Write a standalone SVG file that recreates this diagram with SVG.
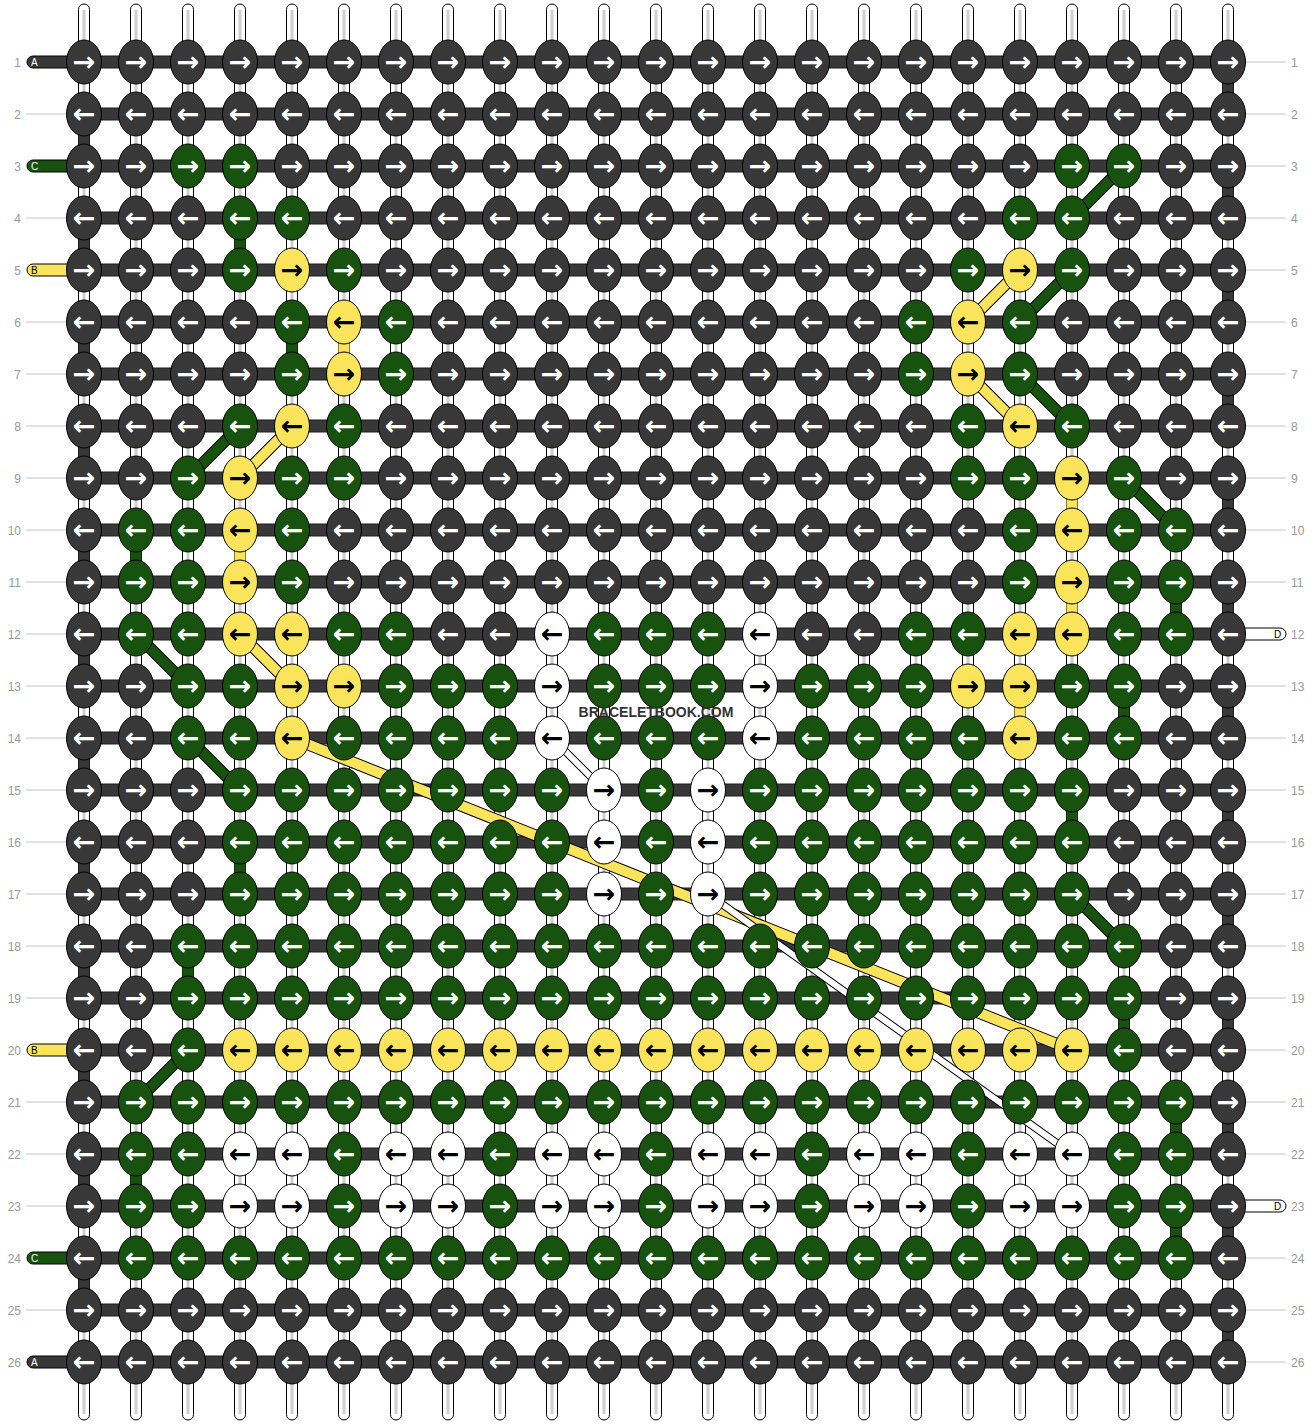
<svg xmlns="http://www.w3.org/2000/svg" xmlns:xlink="http://www.w3.org/1999/xlink" width="1312" height="1424" viewBox="0 0 1312 1424">
<style>
.aw{font-family:"DejaVu Sans",sans-serif;font-size:27px;font-weight:bold;text-anchor:middle;fill:#fff}
.ab{font-family:"DejaVu Sans",sans-serif;font-size:27px;font-weight:bold;text-anchor:middle;fill:#000}
.kd{fill:#383838;stroke:#000;stroke-width:1}
.kg{fill:#17520f;stroke:#000;stroke-width:1}
.ky{fill:#f9e45b;stroke:#000;stroke-width:1}
.kw{fill:#fff;stroke:#000;stroke-width:1}
.bar{fill:#383838;stroke:#1c1c1c;stroke-width:1}
.vd{fill:#383838;stroke:#1c1c1c;stroke-width:1}
.vg{fill:#17520f;stroke:#0c2c08;stroke-width:1}
.vy{fill:#f9e45b;stroke:#8a7a20;stroke-width:1}
.num{font-family:"Liberation Sans",Arial,sans-serif;font-size:12px;fill:#999}
.nl{stroke:#c4c4c4;stroke-width:1}
.lab{font-family:"Liberation Sans",Arial,sans-serif;font-size:10px}
.ol{stroke:#000;stroke-width:12;stroke-linecap:butt}
.og{stroke:#17520f;stroke-width:10}
.oy{stroke:#f9e45b;stroke-width:10}
.wo{stroke:#000;stroke-width:8}
.wi{stroke:#fff;stroke-width:6}
</style>
<defs>
<g id="warp"><rect x="-5.5" y="4" width="11" height="1416" rx="5.5" fill="#fff" stroke="#000"/><line x1="0" y1="10" x2="0" y2="1414" stroke="#cfcfcf" stroke-width="3"/></g>
<text id="ar-w" class="aw" y="9.2">→</text>
<text id="al-w" class="aw" y="9.2">←</text>
<text id="ar-b" class="ab" y="9.2">→</text>
<text id="al-b" class="ab" y="9.2">←</text>
<g id="dr"><ellipse class="kd" rx="17.5" ry="22"/><use href="#ar-w"/></g>
<g id="dl"><ellipse class="kd" rx="17.5" ry="22"/><use href="#al-w"/></g>
<g id="gr"><ellipse class="kg" rx="17.5" ry="22"/><use href="#ar-w"/></g>
<g id="gl"><ellipse class="kg" rx="17.5" ry="22"/><use href="#al-w"/></g>
<g id="yr"><ellipse class="ky" rx="17.5" ry="22"/><use href="#ar-b"/></g>
<g id="yl"><ellipse class="ky" rx="17.5" ry="22"/><use href="#al-b"/></g>
<g id="wr"><ellipse class="kw" rx="17.5" ry="22"/><use href="#ar-b"/></g>
<g id="wl"><ellipse class="kw" rx="17.5" ry="22"/><use href="#al-b"/></g>
</defs>
<rect width="1312" height="1424" fill="#fff"/>
<g id="warps">
<use href="#warp" x="84"/><use href="#warp" x="136"/><use href="#warp" x="188"/><use href="#warp" x="240"/><use href="#warp" x="292"/><use href="#warp" x="344"/><use href="#warp" x="396"/><use href="#warp" x="448"/><use href="#warp" x="500"/><use href="#warp" x="552"/><use href="#warp" x="604"/><use href="#warp" x="656"/><use href="#warp" x="708"/><use href="#warp" x="760"/><use href="#warp" x="812"/><use href="#warp" x="864"/><use href="#warp" x="916"/><use href="#warp" x="968"/><use href="#warp" x="1020"/><use href="#warp" x="1072"/><use href="#warp" x="1124"/><use href="#warp" x="1176"/><use href="#warp" x="1228"/>
</g>
<g id="labels-left">
<rect x="27" y="56" width="50" height="12" rx="6" class="kd"/><text class="lab" x="31" y="65.5" fill="#fff">A</text>
<rect x="27" y="160" width="50" height="12" rx="6" class="kg"/><text class="lab" x="31" y="169.5" fill="#fff">C</text>
<rect x="27" y="264" width="50" height="12" rx="6" class="ky"/><text class="lab" x="31" y="273.5" fill="#000">B</text>
<rect x="27" y="1044" width="50" height="12" rx="6" class="ky"/><text class="lab" x="31" y="1053.5" fill="#000">B</text>
<rect x="27" y="1252" width="50" height="12" rx="6" class="kg"/><text class="lab" x="31" y="1261.5" fill="#fff">C</text>
<rect x="27" y="1356" width="50" height="12" rx="6" class="kd"/><text class="lab" x="31" y="1365.5" fill="#fff">A</text>
</g>
<g id="labels-right">
<rect x="1235" y="628" width="51" height="12" rx="6" class="kw"/><text class="lab" x="1274" y="637.5" fill="#000">D</text>
<rect x="1235" y="1200" width="51" height="12" rx="6" class="kw"/><text class="lab" x="1274" y="1209.5" fill="#000">D</text>
</g>
<g id="row-bars">
<rect class="bar" x="84" y="56" width="1144" height="12"/><rect class="bar" x="84" y="108" width="1144" height="12"/><rect class="bar" x="84" y="160" width="1144" height="12"/><rect class="bar" x="84" y="212" width="1144" height="12"/><rect class="bar" x="84" y="264" width="1144" height="12"/><rect class="bar" x="84" y="316" width="1144" height="12"/><rect class="bar" x="84" y="368" width="1144" height="12"/><rect class="bar" x="84" y="420" width="1144" height="12"/><rect class="bar" x="84" y="472" width="1144" height="12"/><rect class="bar" x="84" y="524" width="1144" height="12"/><rect class="bar" x="84" y="576" width="1144" height="12"/><rect class="bar" x="84" y="628" width="1144" height="12"/><rect class="bar" x="84" y="680" width="1144" height="12"/><rect class="bar" x="84" y="732" width="1144" height="12"/><rect class="bar" x="84" y="784" width="1144" height="12"/><rect class="bar" x="84" y="836" width="1144" height="12"/><rect class="bar" x="84" y="888" width="1144" height="12"/><rect class="bar" x="84" y="940" width="1144" height="12"/><rect class="bar" x="84" y="992" width="1144" height="12"/><rect class="bar" x="84" y="1044" width="1144" height="12"/><rect class="bar" x="84" y="1096" width="1144" height="12"/><rect class="bar" x="84" y="1148" width="1144" height="12"/><rect class="bar" x="84" y="1200" width="1144" height="12"/><rect class="bar" x="84" y="1252" width="1144" height="12"/><rect class="bar" x="84" y="1304" width="1144" height="12"/><rect class="bar" x="84" y="1356" width="1144" height="12"/>
</g>
<g id="connectors">
<rect class="vd" x="78.5" y="114" width="11" height="52"/><rect class="vd" x="78.5" y="218" width="11" height="52"/><rect class="vd" x="78.5" y="322" width="11" height="52"/><rect class="vd" x="78.5" y="426" width="11" height="52"/><rect class="vd" x="78.5" y="530" width="11" height="52"/><rect class="vd" x="78.5" y="634" width="11" height="52"/><rect class="vd" x="78.5" y="738" width="11" height="52"/><rect class="vd" x="78.5" y="842" width="11" height="52"/><rect class="vd" x="78.5" y="946" width="11" height="52"/><rect class="vd" x="78.5" y="1050" width="11" height="52"/><rect class="vd" x="78.5" y="1154" width="11" height="52"/><rect class="vd" x="78.5" y="1258" width="11" height="52"/>
<rect class="vd" x="1222.5" y="62" width="11" height="52"/><rect class="vd" x="1222.5" y="166" width="11" height="52"/><rect class="vd" x="1222.5" y="270" width="11" height="52"/><rect class="vd" x="1222.5" y="374" width="11" height="52"/><rect class="vd" x="1222.5" y="478" width="11" height="52"/><rect class="vd" x="1222.5" y="582" width="11" height="52"/><rect class="vd" x="1222.5" y="686" width="11" height="52"/><rect class="vd" x="1222.5" y="790" width="11" height="52"/><rect class="vd" x="1222.5" y="894" width="11" height="52"/><rect class="vd" x="1222.5" y="998" width="11" height="52"/><rect class="vd" x="1222.5" y="1102" width="11" height="52"/><rect class="vd" x="1222.5" y="1206" width="11" height="52"/><rect class="vd" x="1222.5" y="1310" width="11" height="52"/>
<rect class="vg" x="234.5" y="218" width="11" height="52"/>
<rect class="vg" x="286.5" y="322" width="11" height="52"/>
<rect class="vy" x="338.5" y="322" width="11" height="52"/>
<rect class="vg" x="130.5" y="530" width="11" height="52"/>
<rect class="vy" x="234.5" y="530" width="11" height="52"/>
<rect class="vy" x="1066.5" y="478" width="11" height="52"/>
<rect class="vy" x="1066.5" y="582" width="11" height="52"/>
<rect class="vg" x="1170.5" y="582" width="11" height="52"/>
<rect class="vy" x="1014.5" y="686" width="11" height="52"/>
<rect class="vg" x="1118.5" y="686" width="11" height="52"/>
<rect class="vg" x="1066.5" y="790" width="11" height="52"/>
<rect class="vg" x="234.5" y="842" width="11" height="52"/>
<rect class="vg" x="182.5" y="946" width="11" height="52"/>
<rect class="vg" x="1118.5" y="998" width="11" height="52"/>
<rect class="vg" x="1170.5" y="1102" width="11" height="52"/>
<rect class="vg" x="130.5" y="1154" width="11" height="52"/>
<rect class="vg" x="1170.5" y="1206" width="11" height="52"/>
<g id="diag-green">
<line class="ol" x1="1124" y1="166" x2="1072" y2="218"/><line class="og" x1="1124" y1="166" x2="1072" y2="218"/>
<line class="ol" x1="1072" y1="270" x2="1020" y2="322"/><line class="og" x1="1072" y1="270" x2="1020" y2="322"/>
<line class="ol" x1="1020" y1="374" x2="1072" y2="426"/><line class="og" x1="1020" y1="374" x2="1072" y2="426"/>
<line class="ol" x1="1124" y1="478" x2="1176" y2="530"/><line class="og" x1="1124" y1="478" x2="1176" y2="530"/>
<line class="ol" x1="240" y1="426" x2="188" y2="478"/><line class="og" x1="240" y1="426" x2="188" y2="478"/>
<line class="ol" x1="136" y1="634" x2="188" y2="686"/><line class="og" x1="136" y1="634" x2="188" y2="686"/>
<line class="ol" x1="188" y1="738" x2="240" y2="790"/><line class="og" x1="188" y1="738" x2="240" y2="790"/>
<line class="ol" x1="1072" y1="894" x2="1124" y2="946"/><line class="og" x1="1072" y1="894" x2="1124" y2="946"/>
<line class="ol" x1="188" y1="1050" x2="136" y2="1102"/><line class="og" x1="188" y1="1050" x2="136" y2="1102"/>
</g>
<g id="diag-yellow">
<line class="ol" x1="1020" y1="270" x2="968" y2="322"/><line class="oy" x1="1020" y1="270" x2="968" y2="322"/>
<line class="ol" x1="968" y1="374" x2="1020" y2="426"/><line class="oy" x1="968" y1="374" x2="1020" y2="426"/>
<line class="ol" x1="292" y1="426" x2="240" y2="478"/><line class="oy" x1="292" y1="426" x2="240" y2="478"/>
<line class="ol" x1="240" y1="634" x2="292" y2="686"/><line class="oy" x1="240" y1="634" x2="292" y2="686"/>
<line class="ol" x1="292" y1="738" x2="1072" y2="1050"/><line class="oy" x1="292" y1="738" x2="1072" y2="1050"/>
</g>
<g id="diag-white">
<line class="wo" x1="552" y1="738" x2="604" y2="790"/><line class="wi" x1="552" y1="738" x2="604" y2="790"/>
<line class="wo" x1="708" y1="894" x2="1072" y2="1154"/><line class="wi" x1="708" y1="894" x2="1072" y2="1154"/>
</g>
</g>
<g id="knots">
<g id="row-1" transform="translate(0,62)"><use href="#dr" x="84"/><use href="#dr" x="136"/><use href="#dr" x="188"/><use href="#dr" x="240"/><use href="#dr" x="292"/><use href="#dr" x="344"/><use href="#dr" x="396"/><use href="#dr" x="448"/><use href="#dr" x="500"/><use href="#dr" x="552"/><use href="#dr" x="604"/><use href="#dr" x="656"/><use href="#dr" x="708"/><use href="#dr" x="760"/><use href="#dr" x="812"/><use href="#dr" x="864"/><use href="#dr" x="916"/><use href="#dr" x="968"/><use href="#dr" x="1020"/><use href="#dr" x="1072"/><use href="#dr" x="1124"/><use href="#dr" x="1176"/><use href="#dr" x="1228"/></g>
<g id="row-2" transform="translate(0,114)"><use href="#dl" x="84"/><use href="#dl" x="136"/><use href="#dl" x="188"/><use href="#dl" x="240"/><use href="#dl" x="292"/><use href="#dl" x="344"/><use href="#dl" x="396"/><use href="#dl" x="448"/><use href="#dl" x="500"/><use href="#dl" x="552"/><use href="#dl" x="604"/><use href="#dl" x="656"/><use href="#dl" x="708"/><use href="#dl" x="760"/><use href="#dl" x="812"/><use href="#dl" x="864"/><use href="#dl" x="916"/><use href="#dl" x="968"/><use href="#dl" x="1020"/><use href="#dl" x="1072"/><use href="#dl" x="1124"/><use href="#dl" x="1176"/><use href="#dl" x="1228"/></g>
<g id="row-3" transform="translate(0,166)"><use href="#dr" x="84"/><use href="#dr" x="136"/><use href="#gr" x="188"/><use href="#gr" x="240"/><use href="#dr" x="292"/><use href="#dr" x="344"/><use href="#dr" x="396"/><use href="#dr" x="448"/><use href="#dr" x="500"/><use href="#dr" x="552"/><use href="#dr" x="604"/><use href="#dr" x="656"/><use href="#dr" x="708"/><use href="#dr" x="760"/><use href="#dr" x="812"/><use href="#dr" x="864"/><use href="#dr" x="916"/><use href="#dr" x="968"/><use href="#dr" x="1020"/><use href="#gr" x="1072"/><use href="#gr" x="1124"/><use href="#dr" x="1176"/><use href="#dr" x="1228"/></g>
<g id="row-4" transform="translate(0,218)"><use href="#dl" x="84"/><use href="#dl" x="136"/><use href="#dl" x="188"/><use href="#gl" x="240"/><use href="#gl" x="292"/><use href="#dl" x="344"/><use href="#dl" x="396"/><use href="#dl" x="448"/><use href="#dl" x="500"/><use href="#dl" x="552"/><use href="#dl" x="604"/><use href="#dl" x="656"/><use href="#dl" x="708"/><use href="#dl" x="760"/><use href="#dl" x="812"/><use href="#dl" x="864"/><use href="#dl" x="916"/><use href="#dl" x="968"/><use href="#gl" x="1020"/><use href="#gl" x="1072"/><use href="#dl" x="1124"/><use href="#dl" x="1176"/><use href="#dl" x="1228"/></g>
<g id="row-5" transform="translate(0,270)"><use href="#dr" x="84"/><use href="#dr" x="136"/><use href="#dr" x="188"/><use href="#gr" x="240"/><use href="#yr" x="292"/><use href="#gr" x="344"/><use href="#dr" x="396"/><use href="#dr" x="448"/><use href="#dr" x="500"/><use href="#dr" x="552"/><use href="#dr" x="604"/><use href="#dr" x="656"/><use href="#dr" x="708"/><use href="#dr" x="760"/><use href="#dr" x="812"/><use href="#dr" x="864"/><use href="#dr" x="916"/><use href="#gr" x="968"/><use href="#yr" x="1020"/><use href="#gr" x="1072"/><use href="#dr" x="1124"/><use href="#dr" x="1176"/><use href="#dr" x="1228"/></g>
<g id="row-6" transform="translate(0,322)"><use href="#dl" x="84"/><use href="#dl" x="136"/><use href="#dl" x="188"/><use href="#dl" x="240"/><use href="#gl" x="292"/><use href="#yl" x="344"/><use href="#gl" x="396"/><use href="#dl" x="448"/><use href="#dl" x="500"/><use href="#dl" x="552"/><use href="#dl" x="604"/><use href="#dl" x="656"/><use href="#dl" x="708"/><use href="#dl" x="760"/><use href="#dl" x="812"/><use href="#dl" x="864"/><use href="#gl" x="916"/><use href="#yl" x="968"/><use href="#gl" x="1020"/><use href="#dl" x="1072"/><use href="#dl" x="1124"/><use href="#dl" x="1176"/><use href="#dl" x="1228"/></g>
<g id="row-7" transform="translate(0,374)"><use href="#dr" x="84"/><use href="#dr" x="136"/><use href="#dr" x="188"/><use href="#dr" x="240"/><use href="#gr" x="292"/><use href="#yr" x="344"/><use href="#gr" x="396"/><use href="#dr" x="448"/><use href="#dr" x="500"/><use href="#dr" x="552"/><use href="#dr" x="604"/><use href="#dr" x="656"/><use href="#dr" x="708"/><use href="#dr" x="760"/><use href="#dr" x="812"/><use href="#dr" x="864"/><use href="#gr" x="916"/><use href="#yr" x="968"/><use href="#gr" x="1020"/><use href="#dr" x="1072"/><use href="#dr" x="1124"/><use href="#dr" x="1176"/><use href="#dr" x="1228"/></g>
<g id="row-8" transform="translate(0,426)"><use href="#dl" x="84"/><use href="#dl" x="136"/><use href="#dl" x="188"/><use href="#gl" x="240"/><use href="#yl" x="292"/><use href="#gl" x="344"/><use href="#dl" x="396"/><use href="#dl" x="448"/><use href="#dl" x="500"/><use href="#dl" x="552"/><use href="#dl" x="604"/><use href="#dl" x="656"/><use href="#dl" x="708"/><use href="#dl" x="760"/><use href="#dl" x="812"/><use href="#dl" x="864"/><use href="#dl" x="916"/><use href="#gl" x="968"/><use href="#yl" x="1020"/><use href="#gl" x="1072"/><use href="#dl" x="1124"/><use href="#dl" x="1176"/><use href="#dl" x="1228"/></g>
<g id="row-9" transform="translate(0,478)"><use href="#dr" x="84"/><use href="#dr" x="136"/><use href="#gr" x="188"/><use href="#yr" x="240"/><use href="#gr" x="292"/><use href="#gr" x="344"/><use href="#dr" x="396"/><use href="#dr" x="448"/><use href="#dr" x="500"/><use href="#dr" x="552"/><use href="#dr" x="604"/><use href="#dr" x="656"/><use href="#dr" x="708"/><use href="#dr" x="760"/><use href="#dr" x="812"/><use href="#dr" x="864"/><use href="#dr" x="916"/><use href="#gr" x="968"/><use href="#gr" x="1020"/><use href="#yr" x="1072"/><use href="#gr" x="1124"/><use href="#dr" x="1176"/><use href="#dr" x="1228"/></g>
<g id="row-10" transform="translate(0,530)"><use href="#dl" x="84"/><use href="#gl" x="136"/><use href="#gl" x="188"/><use href="#yl" x="240"/><use href="#gl" x="292"/><use href="#dl" x="344"/><use href="#dl" x="396"/><use href="#dl" x="448"/><use href="#dl" x="500"/><use href="#dl" x="552"/><use href="#dl" x="604"/><use href="#dl" x="656"/><use href="#dl" x="708"/><use href="#dl" x="760"/><use href="#dl" x="812"/><use href="#dl" x="864"/><use href="#dl" x="916"/><use href="#dl" x="968"/><use href="#gl" x="1020"/><use href="#yl" x="1072"/><use href="#gl" x="1124"/><use href="#gl" x="1176"/><use href="#dl" x="1228"/></g>
<g id="row-11" transform="translate(0,582)"><use href="#dr" x="84"/><use href="#gr" x="136"/><use href="#gr" x="188"/><use href="#yr" x="240"/><use href="#gr" x="292"/><use href="#dr" x="344"/><use href="#dr" x="396"/><use href="#dr" x="448"/><use href="#dr" x="500"/><use href="#dr" x="552"/><use href="#dr" x="604"/><use href="#dr" x="656"/><use href="#dr" x="708"/><use href="#dr" x="760"/><use href="#dr" x="812"/><use href="#dr" x="864"/><use href="#dr" x="916"/><use href="#dr" x="968"/><use href="#gr" x="1020"/><use href="#yr" x="1072"/><use href="#gr" x="1124"/><use href="#gr" x="1176"/><use href="#dr" x="1228"/></g>
<g id="row-12" transform="translate(0,634)"><use href="#dl" x="84"/><use href="#gl" x="136"/><use href="#gl" x="188"/><use href="#yl" x="240"/><use href="#yl" x="292"/><use href="#gl" x="344"/><use href="#gl" x="396"/><use href="#dl" x="448"/><use href="#dl" x="500"/><use href="#wl" x="552"/><use href="#gl" x="604"/><use href="#gl" x="656"/><use href="#gl" x="708"/><use href="#wl" x="760"/><use href="#dl" x="812"/><use href="#dl" x="864"/><use href="#gl" x="916"/><use href="#gl" x="968"/><use href="#yl" x="1020"/><use href="#yl" x="1072"/><use href="#gl" x="1124"/><use href="#gl" x="1176"/><use href="#dl" x="1228"/></g>
<g id="row-13" transform="translate(0,686)"><use href="#dr" x="84"/><use href="#dr" x="136"/><use href="#gr" x="188"/><use href="#gr" x="240"/><use href="#yr" x="292"/><use href="#yr" x="344"/><use href="#gr" x="396"/><use href="#gr" x="448"/><use href="#gr" x="500"/><use href="#wr" x="552"/><use href="#gr" x="604"/><use href="#gr" x="656"/><use href="#gr" x="708"/><use href="#wr" x="760"/><use href="#gr" x="812"/><use href="#gr" x="864"/><use href="#gr" x="916"/><use href="#yr" x="968"/><use href="#yr" x="1020"/><use href="#gr" x="1072"/><use href="#gr" x="1124"/><use href="#dr" x="1176"/><use href="#dr" x="1228"/></g>
<g id="row-14" transform="translate(0,738)"><use href="#dl" x="84"/><use href="#dl" x="136"/><use href="#gl" x="188"/><use href="#gl" x="240"/><use href="#yl" x="292"/><use href="#gl" x="344"/><use href="#gl" x="396"/><use href="#gl" x="448"/><use href="#gl" x="500"/><use href="#wl" x="552"/><use href="#gl" x="604"/><use href="#gl" x="656"/><use href="#gl" x="708"/><use href="#wl" x="760"/><use href="#gl" x="812"/><use href="#gl" x="864"/><use href="#gl" x="916"/><use href="#gl" x="968"/><use href="#yl" x="1020"/><use href="#gl" x="1072"/><use href="#gl" x="1124"/><use href="#dl" x="1176"/><use href="#dl" x="1228"/></g>
<g id="row-15" transform="translate(0,790)"><use href="#dr" x="84"/><use href="#dr" x="136"/><use href="#dr" x="188"/><use href="#gr" x="240"/><use href="#gr" x="292"/><use href="#gr" x="344"/><use href="#gr" x="396"/><use href="#gr" x="448"/><use href="#gr" x="500"/><use href="#gr" x="552"/><use href="#wr" x="604"/><use href="#gr" x="656"/><use href="#wr" x="708"/><use href="#gr" x="760"/><use href="#gr" x="812"/><use href="#gr" x="864"/><use href="#gr" x="916"/><use href="#gr" x="968"/><use href="#gr" x="1020"/><use href="#gr" x="1072"/><use href="#dr" x="1124"/><use href="#dr" x="1176"/><use href="#dr" x="1228"/></g>
<g id="row-16" transform="translate(0,842)"><use href="#dl" x="84"/><use href="#dl" x="136"/><use href="#dl" x="188"/><use href="#gl" x="240"/><use href="#gl" x="292"/><use href="#gl" x="344"/><use href="#gl" x="396"/><use href="#gl" x="448"/><use href="#gl" x="500"/><use href="#gl" x="552"/><use href="#wl" x="604"/><use href="#gl" x="656"/><use href="#wl" x="708"/><use href="#gl" x="760"/><use href="#gl" x="812"/><use href="#gl" x="864"/><use href="#gl" x="916"/><use href="#gl" x="968"/><use href="#gl" x="1020"/><use href="#gl" x="1072"/><use href="#dl" x="1124"/><use href="#dl" x="1176"/><use href="#dl" x="1228"/></g>
<g id="row-17" transform="translate(0,894)"><use href="#dr" x="84"/><use href="#dr" x="136"/><use href="#dr" x="188"/><use href="#gr" x="240"/><use href="#gr" x="292"/><use href="#gr" x="344"/><use href="#gr" x="396"/><use href="#gr" x="448"/><use href="#gr" x="500"/><use href="#gr" x="552"/><use href="#wr" x="604"/><use href="#gr" x="656"/><use href="#wr" x="708"/><use href="#gr" x="760"/><use href="#gr" x="812"/><use href="#gr" x="864"/><use href="#gr" x="916"/><use href="#gr" x="968"/><use href="#gr" x="1020"/><use href="#gr" x="1072"/><use href="#dr" x="1124"/><use href="#dr" x="1176"/><use href="#dr" x="1228"/></g>
<g id="row-18" transform="translate(0,946)"><use href="#dl" x="84"/><use href="#dl" x="136"/><use href="#gl" x="188"/><use href="#gl" x="240"/><use href="#gl" x="292"/><use href="#gl" x="344"/><use href="#gl" x="396"/><use href="#gl" x="448"/><use href="#gl" x="500"/><use href="#gl" x="552"/><use href="#gl" x="604"/><use href="#gl" x="656"/><use href="#gl" x="708"/><use href="#gl" x="760"/><use href="#gl" x="812"/><use href="#gl" x="864"/><use href="#gl" x="916"/><use href="#gl" x="968"/><use href="#gl" x="1020"/><use href="#gl" x="1072"/><use href="#gl" x="1124"/><use href="#dl" x="1176"/><use href="#dl" x="1228"/></g>
<g id="row-19" transform="translate(0,998)"><use href="#dr" x="84"/><use href="#dr" x="136"/><use href="#gr" x="188"/><use href="#gr" x="240"/><use href="#gr" x="292"/><use href="#gr" x="344"/><use href="#gr" x="396"/><use href="#gr" x="448"/><use href="#gr" x="500"/><use href="#gr" x="552"/><use href="#gr" x="604"/><use href="#gr" x="656"/><use href="#gr" x="708"/><use href="#gr" x="760"/><use href="#gr" x="812"/><use href="#gr" x="864"/><use href="#gr" x="916"/><use href="#gr" x="968"/><use href="#gr" x="1020"/><use href="#gr" x="1072"/><use href="#gr" x="1124"/><use href="#dr" x="1176"/><use href="#dr" x="1228"/></g>
<g id="row-20" transform="translate(0,1050)"><use href="#dl" x="84"/><use href="#dl" x="136"/><use href="#gl" x="188"/><use href="#yl" x="240"/><use href="#yl" x="292"/><use href="#yl" x="344"/><use href="#yl" x="396"/><use href="#yl" x="448"/><use href="#yl" x="500"/><use href="#yl" x="552"/><use href="#yl" x="604"/><use href="#yl" x="656"/><use href="#yl" x="708"/><use href="#yl" x="760"/><use href="#yl" x="812"/><use href="#yl" x="864"/><use href="#yl" x="916"/><use href="#yl" x="968"/><use href="#yl" x="1020"/><use href="#yl" x="1072"/><use href="#gl" x="1124"/><use href="#dl" x="1176"/><use href="#dl" x="1228"/></g>
<g id="row-21" transform="translate(0,1102)"><use href="#dr" x="84"/><use href="#gr" x="136"/><use href="#gr" x="188"/><use href="#gr" x="240"/><use href="#gr" x="292"/><use href="#gr" x="344"/><use href="#gr" x="396"/><use href="#gr" x="448"/><use href="#gr" x="500"/><use href="#gr" x="552"/><use href="#gr" x="604"/><use href="#gr" x="656"/><use href="#gr" x="708"/><use href="#gr" x="760"/><use href="#gr" x="812"/><use href="#gr" x="864"/><use href="#gr" x="916"/><use href="#gr" x="968"/><use href="#gr" x="1020"/><use href="#gr" x="1072"/><use href="#gr" x="1124"/><use href="#gr" x="1176"/><use href="#dr" x="1228"/></g>
<g id="row-22" transform="translate(0,1154)"><use href="#dl" x="84"/><use href="#gl" x="136"/><use href="#gl" x="188"/><use href="#wl" x="240"/><use href="#wl" x="292"/><use href="#gl" x="344"/><use href="#wl" x="396"/><use href="#wl" x="448"/><use href="#gl" x="500"/><use href="#wl" x="552"/><use href="#wl" x="604"/><use href="#gl" x="656"/><use href="#wl" x="708"/><use href="#wl" x="760"/><use href="#gl" x="812"/><use href="#wl" x="864"/><use href="#wl" x="916"/><use href="#gl" x="968"/><use href="#wl" x="1020"/><use href="#wl" x="1072"/><use href="#gl" x="1124"/><use href="#gl" x="1176"/><use href="#dl" x="1228"/></g>
<g id="row-23" transform="translate(0,1206)"><use href="#dr" x="84"/><use href="#gr" x="136"/><use href="#gr" x="188"/><use href="#wr" x="240"/><use href="#wr" x="292"/><use href="#gr" x="344"/><use href="#wr" x="396"/><use href="#wr" x="448"/><use href="#gr" x="500"/><use href="#wr" x="552"/><use href="#wr" x="604"/><use href="#gr" x="656"/><use href="#wr" x="708"/><use href="#wr" x="760"/><use href="#gr" x="812"/><use href="#wr" x="864"/><use href="#wr" x="916"/><use href="#gr" x="968"/><use href="#wr" x="1020"/><use href="#wr" x="1072"/><use href="#gr" x="1124"/><use href="#gr" x="1176"/><use href="#dr" x="1228"/></g>
<g id="row-24" transform="translate(0,1258)"><use href="#dl" x="84"/><use href="#gl" x="136"/><use href="#gl" x="188"/><use href="#gl" x="240"/><use href="#gl" x="292"/><use href="#gl" x="344"/><use href="#gl" x="396"/><use href="#gl" x="448"/><use href="#gl" x="500"/><use href="#gl" x="552"/><use href="#gl" x="604"/><use href="#gl" x="656"/><use href="#gl" x="708"/><use href="#gl" x="760"/><use href="#gl" x="812"/><use href="#gl" x="864"/><use href="#gl" x="916"/><use href="#gl" x="968"/><use href="#gl" x="1020"/><use href="#gl" x="1072"/><use href="#gl" x="1124"/><use href="#gl" x="1176"/><use href="#dl" x="1228"/></g>
<g id="row-25" transform="translate(0,1310)"><use href="#dr" x="84"/><use href="#dr" x="136"/><use href="#dr" x="188"/><use href="#dr" x="240"/><use href="#dr" x="292"/><use href="#dr" x="344"/><use href="#dr" x="396"/><use href="#dr" x="448"/><use href="#dr" x="500"/><use href="#dr" x="552"/><use href="#dr" x="604"/><use href="#dr" x="656"/><use href="#dr" x="708"/><use href="#dr" x="760"/><use href="#dr" x="812"/><use href="#dr" x="864"/><use href="#dr" x="916"/><use href="#dr" x="968"/><use href="#dr" x="1020"/><use href="#dr" x="1072"/><use href="#dr" x="1124"/><use href="#dr" x="1176"/><use href="#dr" x="1228"/></g>
<g id="row-26" transform="translate(0,1362)"><use href="#dl" x="84"/><use href="#dl" x="136"/><use href="#dl" x="188"/><use href="#dl" x="240"/><use href="#dl" x="292"/><use href="#dl" x="344"/><use href="#dl" x="396"/><use href="#dl" x="448"/><use href="#dl" x="500"/><use href="#dl" x="552"/><use href="#dl" x="604"/><use href="#dl" x="656"/><use href="#dl" x="708"/><use href="#dl" x="760"/><use href="#dl" x="812"/><use href="#dl" x="864"/><use href="#dl" x="916"/><use href="#dl" x="968"/><use href="#dl" x="1020"/><use href="#dl" x="1072"/><use href="#dl" x="1124"/><use href="#dl" x="1176"/><use href="#dl" x="1228"/></g>
</g>
<g id="row-number-lines">
<line class="nl" x1="26" y1="114" x2="66" y2="114"/><line class="nl" x1="26" y1="218" x2="66" y2="218"/><line class="nl" x1="26" y1="322" x2="66" y2="322"/><line class="nl" x1="26" y1="374" x2="66" y2="374"/><line class="nl" x1="26" y1="426" x2="66" y2="426"/><line class="nl" x1="26" y1="478" x2="66" y2="478"/><line class="nl" x1="26" y1="530" x2="66" y2="530"/><line class="nl" x1="26" y1="582" x2="66" y2="582"/><line class="nl" x1="26" y1="634" x2="66" y2="634"/><line class="nl" x1="26" y1="686" x2="66" y2="686"/><line class="nl" x1="26" y1="738" x2="66" y2="738"/><line class="nl" x1="26" y1="790" x2="66" y2="790"/><line class="nl" x1="26" y1="842" x2="66" y2="842"/><line class="nl" x1="26" y1="894" x2="66" y2="894"/><line class="nl" x1="26" y1="946" x2="66" y2="946"/><line class="nl" x1="26" y1="998" x2="66" y2="998"/><line class="nl" x1="26" y1="1102" x2="66" y2="1102"/><line class="nl" x1="26" y1="1154" x2="66" y2="1154"/><line class="nl" x1="26" y1="1206" x2="66" y2="1206"/><line class="nl" x1="26" y1="1310" x2="66" y2="1310"/>
<line class="nl" x1="1246" y1="62" x2="1286" y2="62"/><line class="nl" x1="1246" y1="114" x2="1286" y2="114"/><line class="nl" x1="1246" y1="166" x2="1286" y2="166"/><line class="nl" x1="1246" y1="218" x2="1286" y2="218"/><line class="nl" x1="1246" y1="270" x2="1286" y2="270"/><line class="nl" x1="1246" y1="322" x2="1286" y2="322"/><line class="nl" x1="1246" y1="374" x2="1286" y2="374"/><line class="nl" x1="1246" y1="426" x2="1286" y2="426"/><line class="nl" x1="1246" y1="478" x2="1286" y2="478"/><line class="nl" x1="1246" y1="530" x2="1286" y2="530"/><line class="nl" x1="1246" y1="582" x2="1286" y2="582"/><line class="nl" x1="1246" y1="686" x2="1286" y2="686"/><line class="nl" x1="1246" y1="738" x2="1286" y2="738"/><line class="nl" x1="1246" y1="790" x2="1286" y2="790"/><line class="nl" x1="1246" y1="842" x2="1286" y2="842"/><line class="nl" x1="1246" y1="894" x2="1286" y2="894"/><line class="nl" x1="1246" y1="946" x2="1286" y2="946"/><line class="nl" x1="1246" y1="998" x2="1286" y2="998"/><line class="nl" x1="1246" y1="1050" x2="1286" y2="1050"/><line class="nl" x1="1246" y1="1102" x2="1286" y2="1102"/><line class="nl" x1="1246" y1="1154" x2="1286" y2="1154"/><line class="nl" x1="1246" y1="1258" x2="1286" y2="1258"/><line class="nl" x1="1246" y1="1310" x2="1286" y2="1310"/><line class="nl" x1="1246" y1="1362" x2="1286" y2="1362"/>
</g>
<g id="row-numbers-left" class="num" text-anchor="end">
<text x="21" y="66.5">1</text><text x="21" y="118.5">2</text><text x="21" y="170.5">3</text><text x="21" y="222.5">4</text><text x="21" y="274.5">5</text><text x="21" y="326.5">6</text><text x="21" y="378.5">7</text><text x="21" y="430.5">8</text><text x="21" y="482.5">9</text><text x="21" y="534.5">10</text><text x="21" y="586.5">11</text><text x="21" y="638.5">12</text><text x="21" y="690.5">13</text><text x="21" y="742.5">14</text><text x="21" y="794.5">15</text><text x="21" y="846.5">16</text><text x="21" y="898.5">17</text><text x="21" y="950.5">18</text><text x="21" y="1002.5">19</text><text x="21" y="1054.5">20</text><text x="21" y="1106.5">21</text><text x="21" y="1158.5">22</text><text x="21" y="1210.5">23</text><text x="21" y="1262.5">24</text><text x="21" y="1314.5">25</text><text x="21" y="1366.5">26</text>
</g>
<g id="row-numbers-right" class="num">
<text x="1291" y="66.5">1</text><text x="1291" y="118.5">2</text><text x="1291" y="170.5">3</text><text x="1291" y="222.5">4</text><text x="1291" y="274.5">5</text><text x="1291" y="326.5">6</text><text x="1291" y="378.5">7</text><text x="1291" y="430.5">8</text><text x="1291" y="482.5">9</text><text x="1291" y="534.5">10</text><text x="1291" y="586.5">11</text><text x="1291" y="638.5">12</text><text x="1291" y="690.5">13</text><text x="1291" y="742.5">14</text><text x="1291" y="794.5">15</text><text x="1291" y="846.5">16</text><text x="1291" y="898.5">17</text><text x="1291" y="950.5">18</text><text x="1291" y="1002.5">19</text><text x="1291" y="1054.5">20</text><text x="1291" y="1106.5">21</text><text x="1291" y="1158.5">22</text><text x="1291" y="1210.5">23</text><text x="1291" y="1262.5">24</text><text x="1291" y="1314.5">25</text><text x="1291" y="1366.5">26</text>
</g>
<text id="watermark" x="656" y="717" text-anchor="middle" font-family="'Liberation Sans',Arial,sans-serif" font-size="14" font-weight="bold" fill="#333">BRACELETBOOK.COM</text>
</svg>
